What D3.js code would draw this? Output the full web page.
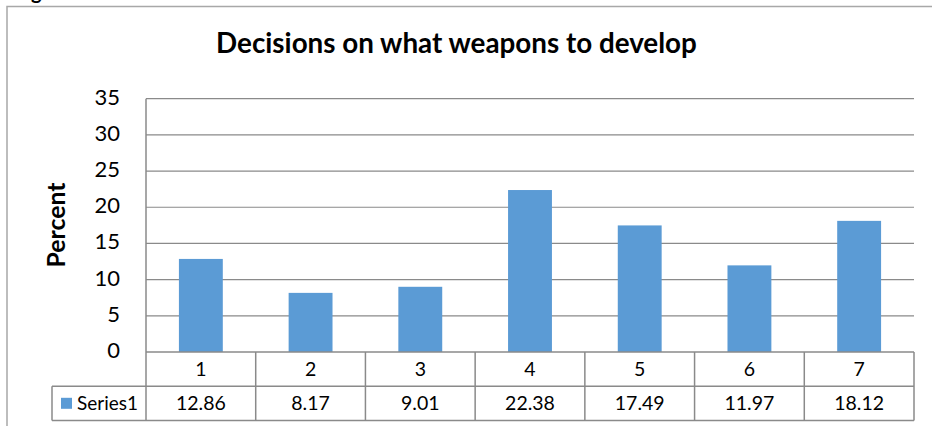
<!DOCTYPE html>
<html>
<head>
<meta charset="utf-8">
<script src="https://cdn.jsdelivr.net/npm/d3@7"></script>
<style>
  html, body { margin: 0; padding: 0; background: #fff; }
  svg { display: block; }
  text { font-family: Lato, "Open Sans", sans-serif; fill: #000; }
</style>
</head>
<body>
<svg id="chart" width="932" height="426"></svg>
<script>
const title = "Decisions on what weapons to develop";
const yAxisTitle = "Percent";
const seriesName = "Series1";
const categories = ["1", "2", "3", "4", "5", "6", "7"];
const values = [12.86, 8.17, 9.01, 22.38, 17.49, 11.97, 18.12];
const yTicks = [0, 5, 10, 15, 20, 25, 30, 35];

const svg = d3.select("#chart");
const W = 932, H = 426;
const plot = { left: 146, right: 914, top: 98.7, bottom: 352 };
const rowH = 34.2;
const tableLeft = 52;
const gridColor = "#8a8a8a";
const barColor = "#5B9BD5";

function fit(sel, target) {
  const node = sel.node();
  const fs = parseFloat(sel.attr("font-size"));
  const w = node.getComputedTextLength();
  sel.attr("font-size", (fs * target / w).toFixed(2));
}

// outer frame (partially out of view)
svg.append("path")
  .attr("d", `M7,${H + 5} L7,6.5 L${W + 5},6.5`)
  .attr("fill", "none").attr("stroke", "#a8a8a8").attr("stroke-width", 1.5);

// fragment of preceding text (cut off at top, as in the reference)
svg.append("text").attr("x", 31).attr("y", -1)
  .attr("font-size", 20).attr("font-weight", "bold").text("g");

const x = d3.scaleBand().domain(categories).range([plot.left, plot.right])
  .paddingInner(0.6).paddingOuter(0.3);
const xCell = d3.scaleBand().domain(categories).range([plot.left, plot.right]).padding(0);
const y = d3.scaleLinear().domain([0, 35]).range([plot.bottom, plot.top]);

// gridlines
svg.append("g").selectAll("line").data(yTicks.filter(d => d > 0)).join("line")
  .attr("x1", plot.left).attr("x2", plot.right)
  .attr("y1", d => y(d)).attr("y2", d => y(d))
  .attr("stroke", gridColor).attr("stroke-width", 1.2);

// y axis tick labels
svg.append("g").selectAll("text").data(yTicks).join("text")
  .attr("x", 120).attr("y", d => y(d) + 6)
  .attr("text-anchor", "end").attr("font-size", 22)
  .text(d => d);

// bars
svg.append("g").selectAll("rect").data(values).join("rect")
  .attr("x", (d, i) => x(categories[i]))
  .attr("width", x.bandwidth())
  .attr("y", d => y(d))
  .attr("height", d => y(0) - y(d))
  .attr("fill", barColor);

// axis line & table
const tb = plot.bottom, t1 = tb + rowH, t2 = tb + 2 * rowH;
const g = svg.append("g").attr("stroke", gridColor).attr("stroke-width", 1.5).attr("fill", "none");
g.append("line").attr("x1", plot.left).attr("x2", plot.left).attr("y1", plot.top).attr("y2", t2);
g.append("line").attr("x1", plot.left).attr("x2", plot.right).attr("y1", tb).attr("y2", tb);
g.append("line").attr("x1", tableLeft).attr("x2", plot.right).attr("y1", t1).attr("y2", t1);
g.append("line").attr("x1", tableLeft).attr("x2", plot.right).attr("y1", t2).attr("y2", t2);
g.append("line").attr("x1", tableLeft).attr("x2", tableLeft).attr("y1", t1).attr("y2", t2);
g.selectAll(".v").data(categories).join("line").attr("class", "v")
  .attr("x1", d => xCell(d) + xCell.bandwidth()).attr("x2", d => xCell(d) + xCell.bandwidth())
  .attr("y1", tb).attr("y2", t2);

// category labels
svg.append("g").selectAll("text").data(categories).join("text")
  .attr("x", d => xCell(d) + xCell.bandwidth() / 2)
  .attr("y", tb + rowH / 2 + 6.8)
  .attr("text-anchor", "middle").attr("font-size", 19.5)
  .text(d => d);

// values row
svg.append("g").selectAll("text").data(values).join("text")
  .attr("x", (d, i) => xCell(categories[i]) + xCell.bandwidth() / 2)
  .attr("y", t1 + rowH / 2 + 6.8)
  .attr("text-anchor", "middle").attr("font-size", 19.5)
  .text(d => d.toFixed(2));

// legend key
svg.append("rect").attr("x", 61).attr("y", t1 + rowH / 2 - 5.5)
  .attr("width", 11).attr("height", 11).attr("fill", barColor);
const lt = svg.append("text").attr("x", 77).attr("y", t1 + rowH / 2 + 6.8)
  .attr("font-size", 19.5).text(seriesName);
fit(lt, 61);

// title
const tt = svg.append("text").attr("x", 456.5).attr("y", 53)
  .attr("text-anchor", "middle").attr("font-size", 28).attr("font-weight", "bold")
  .text(title);
fit(tt, 481);

// y axis title
const yt = svg.append("text")
  .attr("transform", "translate(65,225) rotate(-90)")
  .attr("text-anchor", "middle").attr("font-size", 22).attr("font-weight", "bold")
  .text(yAxisTitle);
fit(yt, 85);
</script>
</body>
</html>
